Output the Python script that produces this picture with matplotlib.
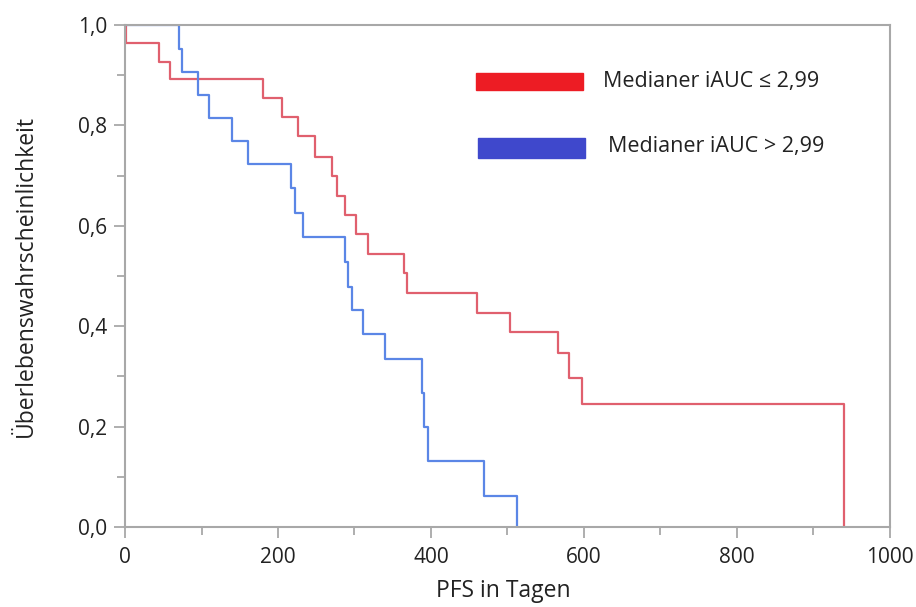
import matplotlib
matplotlib.use("Agg")
import matplotlib.pyplot as plt
from matplotlib.patches import Rectangle
from matplotlib.ticker import MultipleLocator, FuncFormatter

plt.rcParams['font.family'] = ['Open Sans', 'DejaVu Sans']

# Kaplan-Meier steps (time in days, survival after the drop)
red_t = [0, 1, 45, 59, 181, 205, 226, 248, 270, 277, 288, 302, 318, 365, 368,
         460, 503, 566, 580, 598, 940]
red_s = [1.0, 0.964, 0.927, 0.892, 0.855, 0.816, 0.778, 0.738, 0.700, 0.659,
         0.621, 0.583, 0.544, 0.505, 0.466, 0.427, 0.388, 0.346, 0.296, 0.246, 0.0]

blue_t = [0, 71, 74, 95, 110, 140, 161, 217, 222, 233, 288, 292, 297, 311, 340,
          388, 391, 396, 469, 513]
blue_s = [1.0, 0.953, 0.906, 0.860, 0.814, 0.768, 0.723, 0.676, 0.625, 0.578,
          0.528, 0.479, 0.432, 0.384, 0.335, 0.266, 0.200, 0.131, 0.062, 0.0]

labels = ['Medianer iAUC \u2264 2,99', 'Medianer iAUC > 2,99']

fig = plt.figure(figsize=(9.16, 6.07), dpi=100)
ax = fig.add_axes([0.1365, 0.1318, 0.835, 0.827])

ax.step(red_t, red_s, where='post', color='#e0606e', lw=1.6)
ax.step(blue_t, blue_s, where='post', color='#5b86e6', lw=1.6)

ax.set_xlim(0, 1000)
ax.set_ylim(0, 1.0)
ax.xaxis.set_major_locator(MultipleLocator(200))
ax.xaxis.set_minor_locator(MultipleLocator(100))
ax.yaxis.set_major_locator(MultipleLocator(0.2))
ax.yaxis.set_minor_locator(MultipleLocator(0.1))
ax.yaxis.set_major_formatter(FuncFormatter(lambda v, p: f"{v:.1f}".replace('.', ',')))

for s in ax.spines.values():
    s.set_color('#a8a8a8')
    s.set_linewidth(1.5)
ax.tick_params(which='major', length=8, width=1.3, color='#a8a8a8',
               labelsize=15, labelcolor='#222222')
ax.tick_params(which='minor', length=5.5, width=1.3, color='#a8a8a8')
ax.tick_params(axis='x', which='major', pad=6.5)
ax.tick_params(axis='y', which='major', pad=5)

ax.set_xlabel('PFS in Tagen', fontsize=16.5, color='#222222')
ax.set_ylabel('Überlebenswahrscheinlichkeit', fontsize=16.5, color='#222222')
ax.xaxis.set_label_coords(0.495, -0.104)
ax.yaxis.set_label_coords(-0.114, 0.5)

# legend drawn as thick bars with text
ax.add_patch(Rectangle((0.459, 0.870), 0.140, 0.034, transform=ax.transAxes,
                       color='#ed1c24', clip_on=False))
ax.add_patch(Rectangle((0.461, 0.736), 0.141, 0.038, transform=ax.transAxes,
                       color='#3f48cc', clip_on=False))
ax.text(0.625, 0.887, labels[0], transform=ax.transAxes, fontsize=15.5,
        va='center', color='#222222')
ax.text(0.631, 0.758, labels[1], transform=ax.transAxes, fontsize=15.5,
        va='center', color='#222222')

fig.savefig('out.png', dpi=100)
